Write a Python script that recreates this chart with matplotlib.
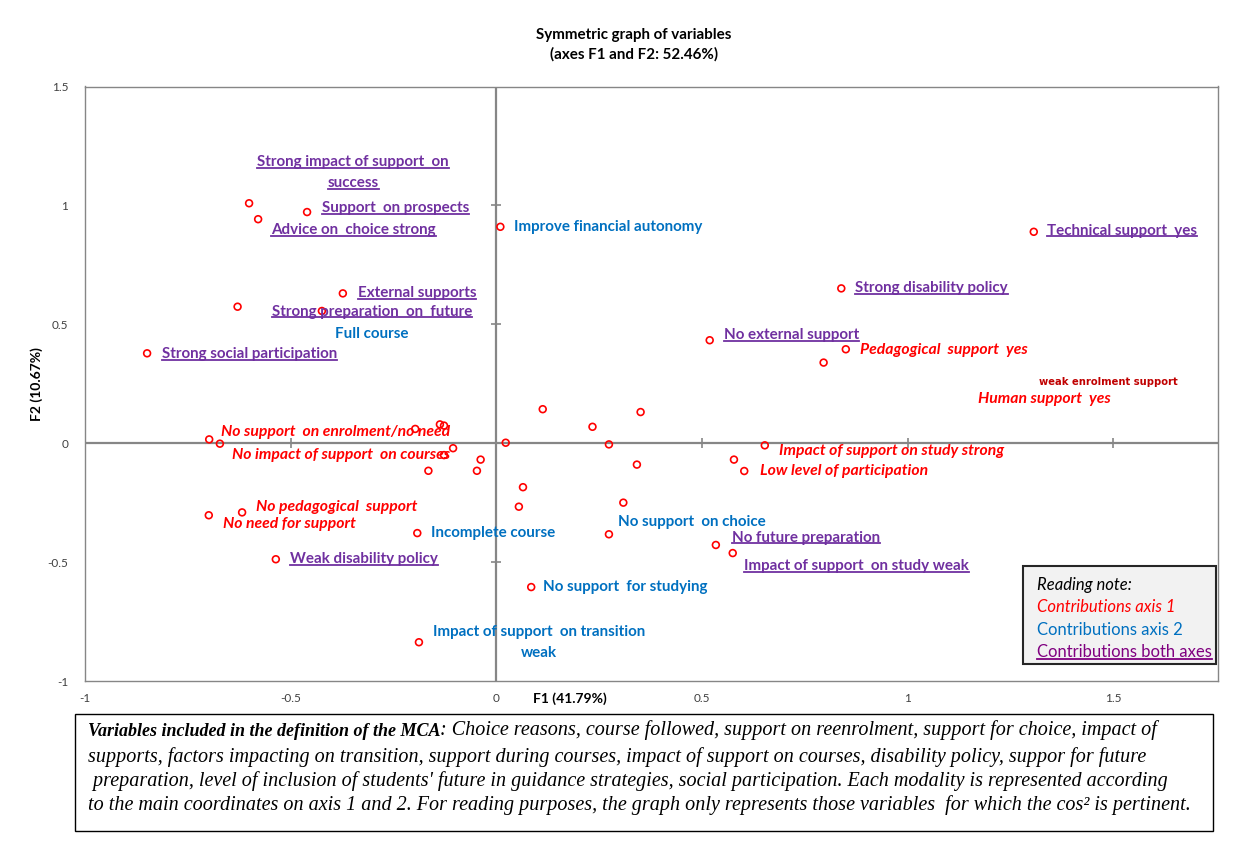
import matplotlib.pyplot as plt
from matplotlib.patches import Rectangle
from matplotlib.lines import Line2D

W, H = 1235, 859
RED = "#FF0000"
BLUE = "#0070C0"
PURPLE = "#7030A0"
GREY = "#868686"

# MCA coordinates of the modalities (F1, F2)
f1 = [-0.601, -0.460, -0.579, -0.373, -0.629, -0.424, -0.849, 0.010, 1.307, 0.839,
      0.519, 0.850, 0.796, 0.351, 0.234, 0.274, 0.342, 0.578, 0.653, 0.603,
      0.113, 0.023, 0.065, 0.055, 0.309, 0.274, 0.085, -0.192, -0.197, -0.137,
      -0.127, -0.105, -0.038, -0.047, -0.165, -0.127, -0.698, -0.672, -0.699, -0.618,
      -0.536, -0.188, 0.534, 0.575]
f2 = [1.009, 0.972, 0.942, 0.630, 0.574, 0.556, 0.378, 0.910, 0.889, 0.651,
      0.433, 0.395, 0.339, 0.131, 0.069, -0.005, -0.090, -0.069, -0.009, -0.117,
      0.143, 0.002, -0.185, -0.267, -0.250, -0.383, -0.605, -0.378, 0.060, 0.079,
      0.074, -0.021, -0.069, -0.116, -0.116, -0.050, 0.016, -0.002, -0.303, -0.291,
      -0.488, -0.837, -0.428, -0.462]

# labelled modalities: point index, text, contribution group (1, 2 or both)
label_point = [0, 1, 2, 3, 4, 5, 6, 7, 8, 9, 10, 11, 12, 12,
               36, 37, 39, 38, 40, 27, 25, 26, 41, 42, 43, 18, 19]
label_text = [
    "Strong impact of support  on\nsuccess", "Support  on prospects",
    "Advice on  choice strong", "External supports",
    "Strong preparation  on  future", "Full course", "Strong social participation",
    "Improve financial autonomy", "Technical support  yes", "Strong disability policy",
    "No external support", "Pedagogical  support  yes", "Human support  yes",
    "weak enrolment support",
    "No support  on enrolment/no need", "No impact of support  on courses",
    "No pedagogical  support", "No need for support", "Weak disability policy",
    "Incomplete course", "No support  on choice", "No support  for studying",
    "Impact of support  on transition\nweak", "No future preparation",
    "Impact of support  on study weak", "Impact of support on study strong",
    "Low level of participation",
]
label_group = ["both", "both", "both", "both", "both", "axis2", "both",
               "axis2", "both", "both", "both", "axis1", "axis1", "note",
               "axis1", "axis1", "axis1", "axis1", "both",
               "axis2", "axis2", "axis2", "axis2", "both",
               "both", "axis1", "axis1"]

# label placement in pixels from the point: dx, dy, alignment
label_offset = {
    "Strong impact of support  on\nsuccess": (104, 41, "center"),
    "Support  on prospects": (15, 4, "left"),
    "Advice on  choice strong": (13, -11, "left"),
    "External supports": (15, 0, "left"),
    "Strong preparation  on  future": (34, -5, "left"),
    "Full course": (50, -23, "center"),
    "Strong social participation": (15, -1, "left"),
    "Improve financial autonomy": (14, 0, "left"),
    "Technical support  yes": (13, 1, "left"),
    "Strong disability policy": (14, 0, "left"),
    "No external support": (14, 5, "left"),
    "Pedagogical  support  yes": (14, -1, "left"),
    "Human support  yes": (154, -36, "left"),
    "weak enrolment support": (215, -19, "left"),
    "No support  on enrolment/no need": (12, 7, "left"),
    "No impact of support  on courses": (12, -11, "left"),
    "No pedagogical  support": (14, 5, "left"),
    "No need for support": (14, -9, "left"),
    "Weak disability policy": (14, 0, "left"),
    "Incomplete course": (14, 0, "left"),
    "No support  on choice": (9, 12, "left"),
    "No support  for studying": (12, 0, "left"),
    "Impact of support  on transition\nweak": (120, 10, "center"),
    "No future preparation": (16, 7, "left"),
    "Impact of support  on study weak": (11, -13, "left"),
    "Impact of support on study strong": (14, -6, "left"),
    "Low level of participation": (16, 0, "left"),
}

group_style = {
    "axis1": dict(color=RED, fontweight="bold", fontstyle="italic", fontsize=11.3),
    "axis2": dict(color=BLUE, fontweight="bold", fontsize=10.9),
    "both": dict(color=PURPLE, fontweight="bold", fontsize=10.9),
    "note": dict(color="#C00000", fontweight="bold", fontsize=7.2,
                 family=["DejaVu Sans"]),
}

xticks = [-1, -0.5, 0, 0.5, 1, 1.5]
yticks = [-1, -0.5, 0, 0.5, 1, 1.5]

plt.rcParams["font.family"] = ["Lato", "DejaVu Sans"]


def fx(px):
    return px / W


def fy(py):
    return 1 - py / H


fig = plt.figure(figsize=(W / 100, H / 100), dpi=100)
ax = fig.add_axes([fx(85), fy(681), (1218 - 85) / W, (681 - 86.5) / H])
ax.set_xlim(-1, 1.755)
ax.set_ylim(-1, 1.5)

for s in ax.spines.values():
    s.set_color(GREY)
    s.set_linewidth(1.0)
ax.set_xticks(xticks)
ax.set_xticklabels([f"{t:g}" for t in xticks])
ax.set_yticks(yticks)
ax.set_yticklabels([f"{t:g}" for t in yticks])
ax.tick_params(axis="x", length=0, pad=9, labelsize=8.5, colors="#404040")
ax.tick_params(axis="y", length=0, pad=12, labelsize=8.5, colors="#404040")

# axes through the origin with cross tick marks
ax.axhline(0, color=GREY, lw=1.6, zorder=1)
ax.axvline(0, color=GREY, lw=1.6, zorder=1)
inner_x = [t for t in xticks if t not in (-1, 0)]
inner_y = [t for t in yticks if t not in (-1, 0, 1.5)]
ax.plot(inner_x, [0] * len(inner_x), ls="none", marker="|", ms=7, mew=1.2, color=GREY, zorder=1)
ax.plot([0] * len(inner_y), inner_y, ls="none", marker="_", ms=7, mew=1.2, color=GREY, zorder=1)

ax.scatter(f1, f2, s=24, facecolors="none", edgecolors=RED, linewidths=1.2, zorder=3)

underlined = []
for k, txt, grp in zip(label_point, label_text, label_group):
    dx, dy, ha = label_offset[txt]
    for i, line in enumerate(txt.split("\n")):
        t = ax.annotate(line, (f1[k], f2[k]), xytext=(dx, dy - 21 * i),
                        textcoords="offset pixels", ha=ha, va="center",
                        annotation_clip=False, zorder=4, **group_style[grp])
        if grp == "both":
            underlined.append(t)

fig.text(fx(634), fy(45), "Symmetric graph of variables\n(axes F1 and F2: 52.46%)",
         ha="center", va="center", fontsize=10.9, fontweight="bold", linespacing=1.45)
fig.text(fx(37), fy(384), "F2 (10.67%)", rotation=90, ha="center", va="center",
         fontsize=10, fontweight="bold")
fig.text(fx(570), fy(699), "F1 (41.79%)", ha="center", va="center",
         fontsize=10, fontweight="bold")

# reading note
fig.add_artist(Rectangle((fx(1023), fy(664)), (1216 - 1023) / W, (664 - 566) / H,
                         transform=fig.transFigure, facecolor="#F2F2F2",
                         edgecolor="#262626", lw=1.5, zorder=5))
note = [("Reading note:", "black", "italic"),
        ("Contributions axis 1", RED, "italic"),
        ("Contributions axis 2", BLUE, "normal"),
        ("Contributions both axes", "#800080", "normal")]
for (txt, col, sty), py in zip(note, [585, 607, 630, 652]):
    t = fig.text(fx(1037), fy(py), txt, color=col, fontstyle=sty, fontsize=12,
                 va="center", zorder=6)
    if txt.endswith("both axes"):
        underlined.append(t)

# description of the MCA
fig.add_artist(Rectangle((fx(75), fy(831)), (1213 - 75) / W, (831 - 714) / H,
                         transform=fig.transFigure, facecolor="none",
                         edgecolor="black", lw=1.0))
serif = dict(family=["Liberation Serif", "DejaVu Serif"], fontstyle="italic")
head = fig.text(fx(88), fy(732), "Variables included in the definition of the MCA",
                va="center", fontweight="bold", fontsize=13, **serif)
ax.annotate(": Choice reasons, course followed, support on reenrolment, support for choice, impact of",
            xy=(1, 0), xycoords=head, va="bottom", ha="left", annotation_clip=False,
            fontsize=14.5, **serif)
body = [
    "supports, factors impacting on transition, support during courses, impact of support on courses, disability policy, suppor for future",
    " preparation, level of inclusion of students' future in guidance strategies, social participation. Each modality is represented according",
    "to the main coordinates on axis 1 and 2. For reading purposes, the graph only represents those variables  for which the cos\u00b2 is pertinent.",
]
for line, py in zip(body, [757, 781, 805]):
    fig.text(fx(88), fy(py), line, va="center", fontsize=14.5, **serif)

# underline the labels that contribute to both axes
fig.canvas.draw()
renderer = fig.canvas.get_renderer()
inv = fig.transFigure.inverted()
for t in underlined:
    bb = t.get_window_extent(renderer)
    (x0, y0), (x1, _) = inv.transform([(bb.x0, bb.y0 + 1.5), (bb.x1, bb.y0)])
    fig.add_artist(Line2D([x0, x1], [y0, y0], transform=fig.transFigure,
                          color=t.get_color(), lw=1.3, zorder=7))

fig.savefig("out.png", dpi=100)
